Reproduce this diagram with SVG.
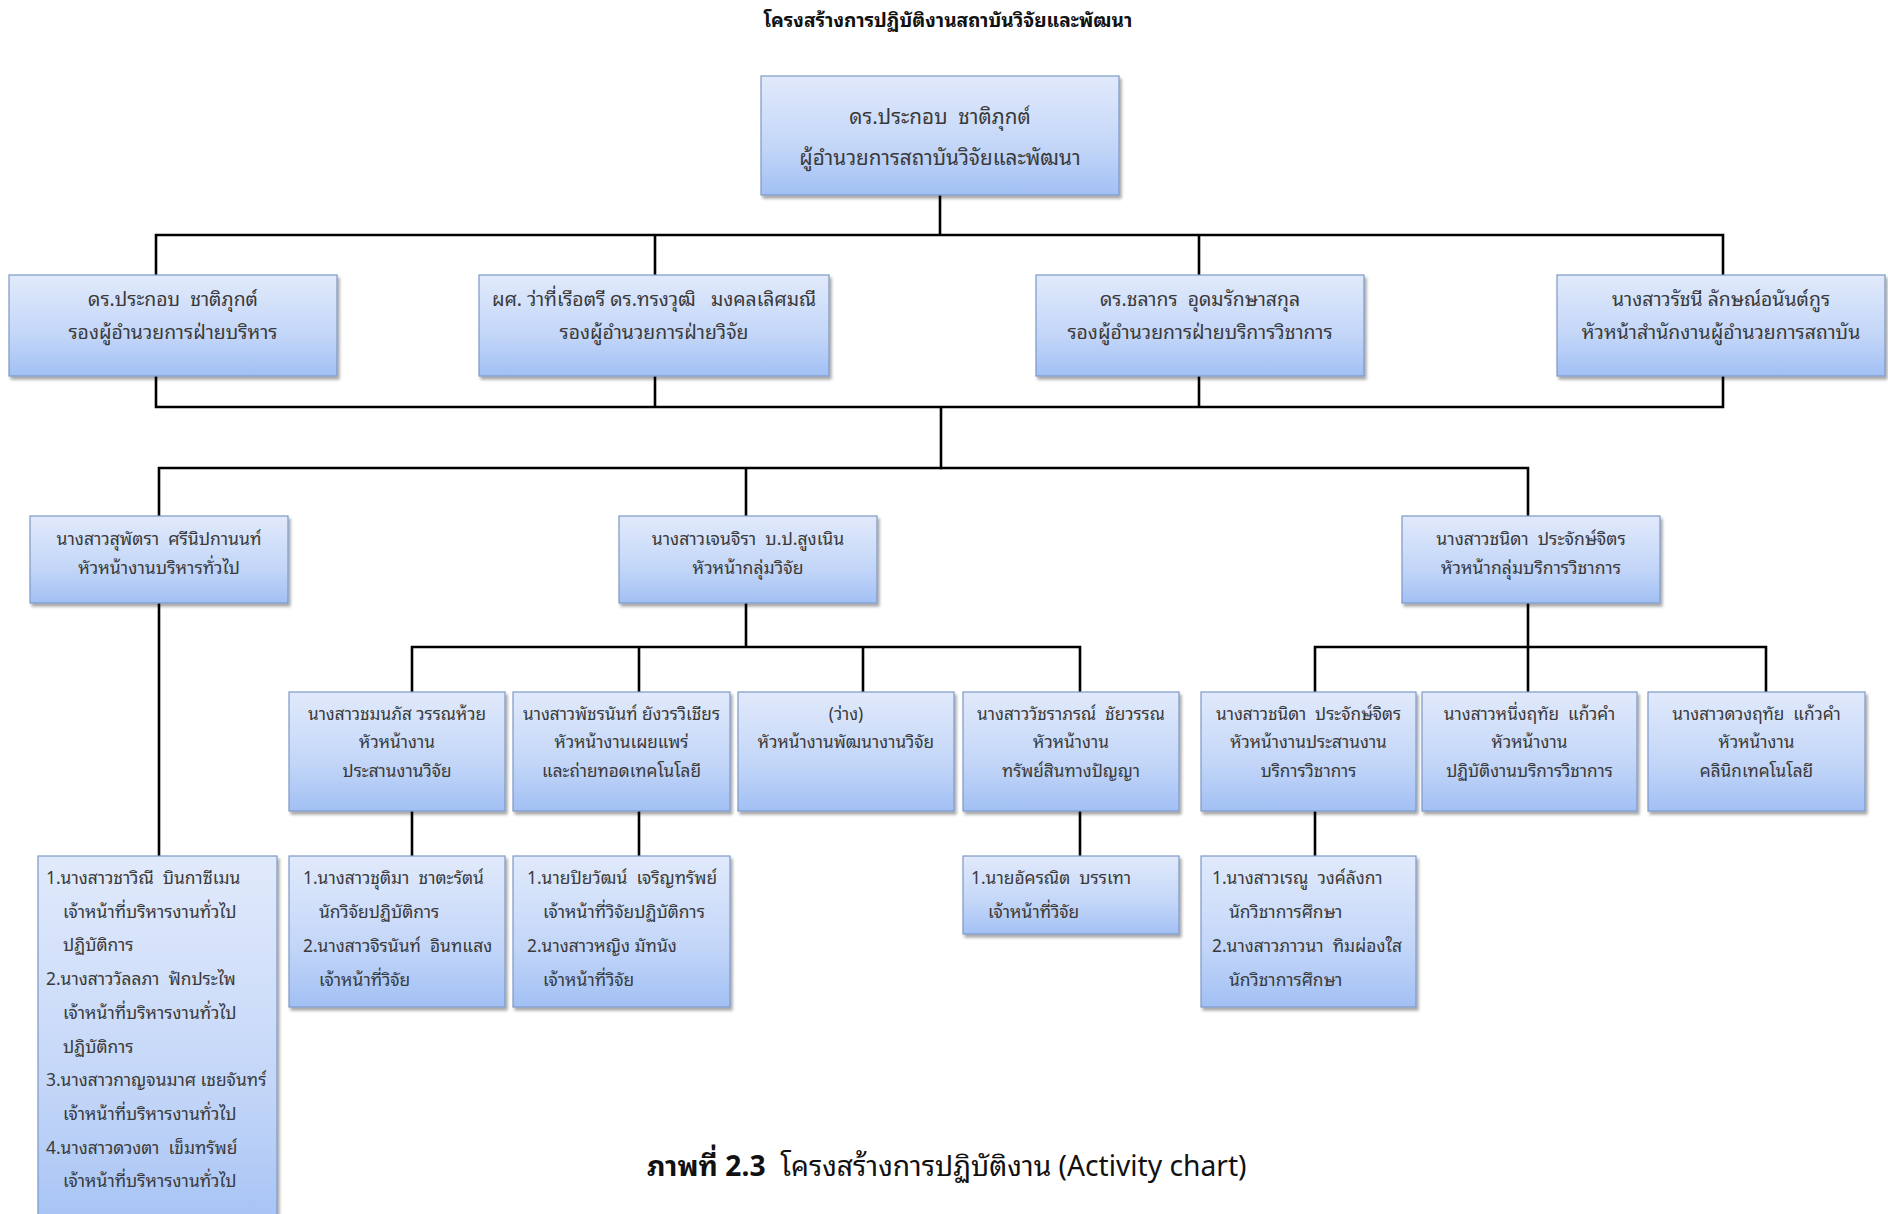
<svg xmlns="http://www.w3.org/2000/svg" width="1888" height="1214" viewBox="0 0 1888 1214">
<style>
text{font-family:"Noto Sans Thai Looped","Noto Sans Thai","Noto Sans",sans-serif;fill:#3a3a3a;white-space:pre}
.c{text-anchor:middle}
.t0{font-size:20.7px}
.t2{font-size:19.4px}
.t3{font-size:17.6px}
.t4{font-size:17.2px}
.t5{font-size:17.4px}
.box{fill:url(#g);stroke:#7d98c6;stroke-width:1.2;filter:url(#sh)}
.ln{stroke:#000;stroke-width:2.6;fill:none;stroke-linecap:square}
</style>
<defs>
<linearGradient id="g" x1="0" y1="0" x2="0" y2="1">
<stop offset="0" stop-color="#e1eafb"/>
<stop offset="0.6" stop-color="#c3d6f8"/>
<stop offset="1" stop-color="#a2c0f4"/>
</linearGradient>
<filter id="sh" x="-5%" y="-5%" width="115%" height="120%">
<feDropShadow dx="2" dy="3" stdDeviation="1.5" flood-color="#000" flood-opacity="0.35"/>
</filter>
</defs>
<rect width="1888" height="1214" fill="#fff"/>
<text x="948" y="27" class="c" style="font-size:19.1px;font-weight:bold;fill:#111">โครงสร้างการปฏิบัติงานสถาบันวิจัยและพัฒนา</text>

<g id="connectors">
<path class="ln" d="M940 195V235M156 235H1723M156 235V275M655 235V275M1199 235V275M1723 235V275"/>
<path class="ln" d="M156 376V407M655 376V407M1199 376V407M1723 376V407M156 407H1723M941 407V468"/>
<path class="ln" d="M159 468H1528M159 468V516M746 468V516M1528 468V516"/>
<path class="ln" d="M159 603V856M746 603V647M412 647H1080M412 647V692M639 647V692M863 647V692M1080 647V692"/>
<path class="ln" d="M1528 603V647M1315 647H1766M1315 647V692M1528 647V692M1766 647V692"/>
<path class="ln" d="M412 811V856M639 811V856M1080 811V856M1315 811V856"/>
</g>

<g id="n0"><rect class="box" x="761" y="76" width="358" height="119"/>
<text class="c t0" x="940" y="124">ดร.ประกอบ  ชาติภุกต์</text>
<text class="c t0" x="940" y="165">ผู้อำนวยการสถาบันวิจัยและพัฒนา</text></g>

<g id="n1"><rect class="box" x="9" y="275" width="328" height="101"/>
<text class="c t2" x="173" y="306">ดร.ประกอบ  ชาติภุกต์</text>
<text class="c t2" x="173" y="339">รองผู้อำนวยการฝ่ายบริหาร</text></g>
<g id="n2"><rect class="box" x="479" y="275" width="350" height="101"/>
<text class="c t2" x="654" y="306">ผศ. ว่าที่เรือตรี ดร.ทรงวุฒิ   มงคลเลิศมณี</text>
<text class="c t2" x="654" y="339">รองผู้อำนวยการฝ่ายวิจัย</text></g>
<g id="n3"><rect class="box" x="1036" y="275" width="328" height="101"/>
<text class="c t2" x="1200" y="306">ดร.ชลากร  อุดมรักษาสกุล</text>
<text class="c t2" x="1200" y="339">รองผู้อำนวยการฝ่ายบริการวิชาการ</text></g>
<g id="n4"><rect class="box" x="1557" y="275" width="328" height="101"/>
<text class="c t2" x="1721" y="306">นางสาวรัชนี ลักษณ์อนันต์กูร</text>
<text class="c t2" x="1721" y="339">หัวหน้าสำนักงานผู้อำนวยการสถาบัน</text></g>

<g id="n5"><rect class="box" x="30" y="516" width="258" height="87"/>
<text class="c t3" x="159" y="545">นางสาวสุพัตรา  ศรีนิปกานนท์</text>
<text class="c t3" x="159" y="574">หัวหน้างานบริหารทั่วไป</text></g>
<g id="n6"><rect class="box" x="619" y="516" width="258" height="87"/>
<text class="c t3" x="748" y="545">นางสาวเจนจิรา  บ.ป.สูงเนิน</text>
<text class="c t3" x="748" y="574">หัวหน้ากลุ่มวิจัย</text></g>
<g id="n7"><rect class="box" x="1402" y="516" width="258" height="87"/>
<text class="c t3" x="1531" y="545">นางสาวชนิดา  ประจักษ์จิตร</text>
<text class="c t3" x="1531" y="574">หัวหน้ากลุ่มบริการวิชาการ</text></g>

<g id="n8"><rect class="box" x="289" y="692" width="216" height="119"/>
<text class="c t4" x="397" y="720">นางสาวชมนภัส วรรณห้วย</text>
<text class="c t4" x="397" y="748">หัวหน้างาน</text>
<text class="c t4" x="397" y="777">ประสานงานวิจัย</text></g>
<g id="n9"><rect class="box" x="513" y="692" width="217" height="119"/>
<text class="c t4" x="621.5" y="720">นางสาวพัชรนันท์ ยังวรวิเชียร</text>
<text class="c t4" x="621.5" y="748">หัวหน้างานเผยแพร่</text>
<text class="c t4" x="621.5" y="777">และถ่ายทอดเทคโนโลยี</text></g>
<g id="n10"><rect class="box" x="738" y="692" width="216" height="119"/>
<text class="c t4" x="846" y="720">(ว่าง)</text>
<text class="c t4" x="846" y="748">หัวหน้างานพัฒนางานวิจัย</text></g>
<g id="n11"><rect class="box" x="963" y="692" width="216" height="119"/>
<text class="c t4" x="1071" y="720">นางสาววัชราภรณ์  ชัยวรรณ</text>
<text class="c t4" x="1071" y="748">หัวหน้างาน</text>
<text class="c t4" x="1071" y="777">ทรัพย์สินทางปัญญา</text></g>
<g id="n12"><rect class="box" x="1201" y="692" width="215" height="119"/>
<text class="c t4" x="1308.5" y="720">นางสาวชนิดา  ประจักษ์จิตร</text>
<text class="c t4" x="1308.5" y="748">หัวหน้างานประสานงาน</text>
<text class="c t4" x="1308.5" y="777">บริการวิชาการ</text></g>
<g id="n13"><rect class="box" x="1422" y="692" width="215" height="119"/>
<text class="c t4" x="1529.5" y="720">นางสาวหนึ่งฤทัย  แก้วคำ</text>
<text class="c t4" x="1529.5" y="748">หัวหน้างาน</text>
<text class="c t4" x="1529.5" y="777">ปฏิบัติงานบริการวิชาการ</text></g>
<g id="n14"><rect class="box" x="1648" y="692" width="217" height="119"/>
<text class="c t4" x="1756.5" y="720">นางสาวดวงฤทัย  แก้วคำ</text>
<text class="c t4" x="1756.5" y="748">หัวหน้างาน</text>
<text class="c t4" x="1756.5" y="777">คลินิกเทคโนโลยี</text></g>

<g id="n15"><rect class="box" x="38" y="856" width="239" height="390"/>
<text class="t5" x="46" y="884">1.นางสาวชาวิณี  บินกาซีเมน</text>
<text class="t5" x="63" y="918">เจ้าหน้าที่บริหารงานทั่วไป</text>
<text class="t5" x="63" y="951">ปฏิบัติการ</text>
<text class="t5" x="46" y="985">2.นางสาววัลลภา  ฟักประไพ</text>
<text class="t5" x="63" y="1019">เจ้าหน้าที่บริหารงานทั่วไป</text>
<text class="t5" x="63" y="1053">ปฏิบัติการ</text>
<text class="t5" x="46" y="1086">3.นางสาวกาญจนมาศ เชยจันทร์</text>
<text class="t5" x="63" y="1120">เจ้าหน้าที่บริหารงานทั่วไป</text>
<text class="t5" x="46" y="1154">4.นางสาวดวงตา  เข็มทรัพย์</text>
<text class="t5" x="63" y="1187">เจ้าหน้าที่บริหารงานทั่วไป</text></g>
<g id="n16"><rect class="box" x="289" y="856" width="216" height="151"/>
<text class="t5" x="303" y="884">1.นางสาวชุติมา  ชาตะรัตน์</text>
<text class="t5" x="319" y="918">นักวิจัยปฏิบัติการ</text>
<text class="t5" x="303" y="952">2.นางสาวจิรนันท์  อินทแสง</text>
<text class="t5" x="319" y="986">เจ้าหน้าที่วิจัย</text></g>
<g id="n17"><rect class="box" x="513" y="856" width="217" height="151"/>
<text class="t5" x="527" y="884">1.นายปิยวัฒน์  เจริญทรัพย์</text>
<text class="t5" x="543" y="918">เจ้าหน้าที่วิจัยปฏิบัติการ</text>
<text class="t5" x="527" y="952">2.นางสาวหญิง มัทนัง</text>
<text class="t5" x="543" y="986">เจ้าหน้าที่วิจัย</text></g>
<g id="n18"><rect class="box" x="963" y="856" width="216" height="78"/>
<text class="t5" x="971" y="884">1.นายอัครณิต  บรรเทา</text>
<text class="t5" x="988" y="918">เจ้าหน้าที่วิจัย</text></g>
<g id="n19"><rect class="box" x="1201" y="856" width="215" height="151"/>
<text class="t5" x="1212" y="884">1.นางสาวเรณู  วงค์ลังกา</text>
<text class="t5" x="1229" y="918">นักวิชาการศึกษา</text>
<text class="t5" x="1212" y="952">2.นางสาวภาวนา  ทิมผ่องใส</text>
<text class="t5" x="1229" y="986">นักวิชาการศึกษา</text></g>

<text x="647" y="1176" style="font-size:28.2px;fill:#111"><tspan style="font-weight:bold">ภาพที่ 2.3</tspan>  โครงสร้างการปฏิบัติงาน (Activity chart)</text>
</svg>
